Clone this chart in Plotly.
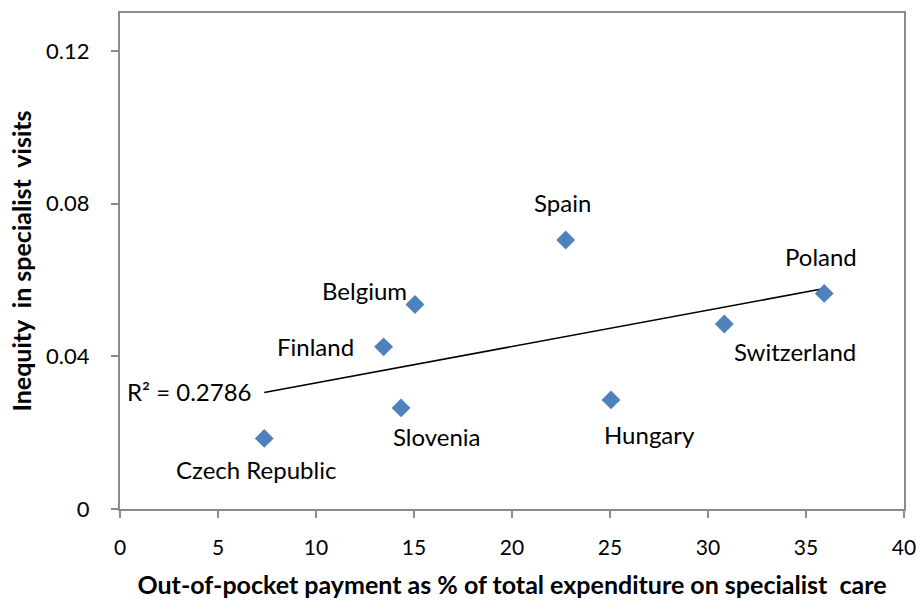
import numpy as np
import plotly.graph_objects as go

# data
countries = ["Czech Republic", "Slovenia", "Finland", "Belgium",
             "Spain", "Poland", "Switzerland", "Hungary"]
oop_share = [7.36, 14.34, 13.45, 15.05, 22.74, 35.93, 30.83, 25.05]
inequity = [0.0185, 0.0265, 0.0425, 0.0536, 0.0705, 0.0565, 0.0485, 0.0286]
r2_label = "R² = 0.2786"

# label placement (pixel shift from the marker, anchor)
label_pos = {
    "Czech Republic": (-8, -31, "center"),
    "Slovenia": (36, -29, "center"),
    "Finland": (-28, 0, "right"),
    "Belgium": (-50, 14, "center"),
    "Spain": (-3, 38, "center"),
    "Poland": (-3, 37, "center"),
    "Switzerland": (71, -28, "center"),
    "Hungary": (39, -35, "center"),
}

FONT = "Lato, Calibri, Carlito, sans-serif"
AXIS_GREY = "#8c8c8c"

x = np.array(oop_share)
y = np.array(inequity)
slope, intercept = np.polyfit(x, y, 1)
xfit = np.array([x.min(), x.max()])
yfit = slope * xfit + intercept

fig = go.Figure()

fig.add_trace(go.Scatter(
    x=xfit, y=yfit, mode="lines",
    line=dict(color="black", width=1.6),
    hoverinfo="skip", showlegend=False
))

fig.add_trace(go.Scatter(
    x=oop_share, y=inequity, mode="markers",
    marker=dict(symbol="diamond", size=14.5, color="#4F81BD",
                line=dict(width=0)),
    text=countries, hoverinfo="text", showlegend=False
))

for c, xv, yv in zip(countries, oop_share, inequity):
    dx, dy, anchor = label_pos[c]
    fig.add_annotation(
        x=xv, y=yv, text=c, showarrow=False,
        xanchor=anchor, yanchor="middle",
        xshift=dx, yshift=dy,
        font=dict(family=FONT, size=24, color="black")
    )

# R² label next to the left end of the trend line
fig.add_annotation(
    x=xfit[0], y=yfit[0], text=r2_label, showarrow=False,
    xanchor="right", yanchor="middle", xshift=-10, yshift=1,
    font=dict(family=FONT, size=24, color="black")
)

fig.update_layout(
    width=916, height=601,
    margin=dict(l=120, r=12, t=13, b=92),
    plot_bgcolor="white", paper_bgcolor="white",
    font=dict(family=FONT, size=22, color="black"),
    xaxis=dict(
        range=[0, 40], dtick=5, tick0=0, automargin=False,
        showgrid=False, zeroline=False,
        showline=True, linecolor=AXIS_GREY, linewidth=2, mirror=True,
        ticks="outside", ticklen=7, tickwidth=1.5, tickcolor=AXIS_GREY,
        ticklabelstandoff=12, ticklabeloverflow="allow",
        tickfont=dict(family=FONT, size=21),
        title=dict(text="<b>Out-of-pocket payment as % of total expenditure on specialist&nbsp; care</b>",
                   font=dict(family=FONT, size=25), standoff=18),
    ),
    yaxis=dict(
        range=[0, 0.13], tickvals=[0, 0.04, 0.08, 0.12],
        ticktext=["0", "0.04", "0.08", "0.12"], automargin=False,
        showgrid=False, zeroline=False,
        showline=True, linecolor=AXIS_GREY, linewidth=2, mirror=True,
        ticks="outside", ticklen=7, tickwidth=1.5, tickcolor=AXIS_GREY,
        ticklabelstandoff=17,
        tickfont=dict(family=FONT, size=22),
        title=dict(text="<b>Inequity&nbsp; in specialist&nbsp; visits</b>",
                   font=dict(family=FONT, size=25), standoff=7),
    ),
)

# drop the default page margin so the 916x601 figure fills the window exactly
fig.write_html("out.html", config={"displayModeBar": False},
               post_script="document.body.style.margin='0';document.body.style.overflow='hidden';")
